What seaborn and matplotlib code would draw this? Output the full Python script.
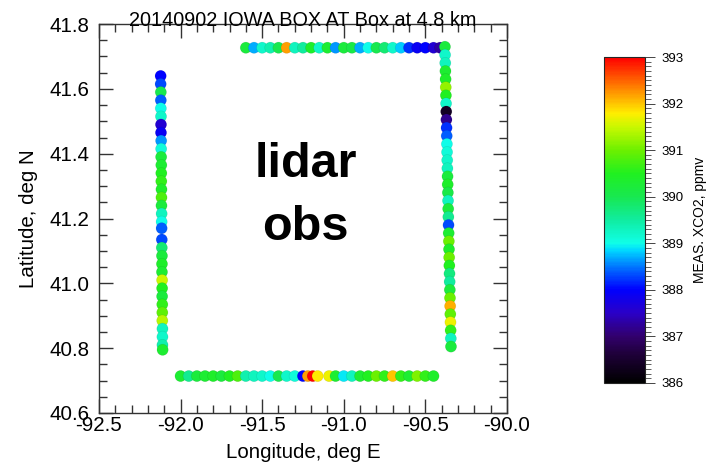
import matplotlib
matplotlib.use("Agg")
import numpy as np
import pandas as pd
import matplotlib.pyplot as plt
import seaborn as sns
from matplotlib.colors import LinearSegmentedColormap, Normalize
from matplotlib.cm import ScalarMappable
from matplotlib.ticker import MultipleLocator, FormatStrFormatter

sns.set_style("ticks")
plt.rcParams["font.family"] = ["Liberation Sans", "DejaVu Sans"]
plt.rcParams["text.color"] = "black"
plt.rcParams["axes.labelcolor"] = "black"
plt.rcParams["xtick.labelcolor"] = "black"
plt.rcParams["ytick.labelcolor"] = "black"

# ---- flight legs (lon, lat, measured XCO2 in ppmv) ----
# west leg, northern segment (flown southward)
west_n_lat = [41.64, 41.615, 41.59, 41.565, 41.54, 41.515, 41.49, 41.465, 41.44, 41.415,
              41.39, 41.365, 41.34, 41.315, 41.29, 41.265, 41.24, 41.215, 41.19, 41.17]
west_n_lon = [-92.122, -92.122, -92.121, -92.121, -92.121, -92.120, -92.120, -92.120, -92.119, -92.119,
              -92.119, -92.118, -92.118, -92.118, -92.117, -92.117, -92.117, -92.116, -92.116, -92.116]
west_n_xco2 = [388.0, 388.3, 390.0, 388.4, 389.0, 389.2, 387.6, 387.9, 388.6, 389.1,
               390.2, 390.3, 390.5, 390.6, 390.4, 390.8, 390.2, 389.3, 389.0, 388.4]

# west leg, southern segment
west_s_lat = [41.135, 41.11, 41.085, 41.06, 41.035, 41.01, 40.985, 40.96, 40.935, 40.91,
              40.885, 40.86, 40.835, 40.81, 40.795]
west_s_lon = [-92.115, -92.115, -92.114, -92.114, -92.114, -92.113, -92.113, -92.113, -92.112, -92.112,
              -92.112, -92.111, -92.111, -92.111, -92.110]
west_s_xco2 = [388.3, 389.8, 390.2, 390.4, 390.3, 391.5, 390.5, 390.2, 390.6, 390.9,
               391.4, 389.3, 389.2, 389.4, 390.3]

# south leg, western segment
south_w_lon = [-92.00, -91.95, -91.90, -91.85, -91.80, -91.75, -91.70, -91.65, -91.60, -91.55,
               -91.50, -91.45, -91.40, -91.35, -91.30, -91.25, -91.22, -91.19, -91.16]
south_w_lat = [40.714, 40.714, 40.714, 40.714, 40.714, 40.714, 40.714, 40.714, 40.714, 40.714,
               40.714, 40.714, 40.714, 40.714, 40.714, 40.714, 40.714, 40.714, 40.714]
south_w_xco2 = [390.3, 389.6, 390.2, 390.3, 390.4, 390.2, 390.5, 390.8, 389.4, 389.3,
                389.2, 389.0, 390.0, 389.2, 389.1, 388.0, 392.2, 393.0, 391.8]

# south leg, eastern segment
south_e_lon = [-91.09, -91.05, -91.00, -90.95, -90.90, -90.85, -90.80, -90.75, -90.70, -90.65,
               -90.60, -90.55, -90.50, -90.45]
south_e_lat = [40.714, 40.714, 40.714, 40.714, 40.714, 40.714, 40.714, 40.714, 40.714, 40.714,
               40.714, 40.714, 40.714, 40.714]
south_e_xco2 = [391.7, 390.3, 388.9, 389.3, 390.3, 390.5, 391.0, 390.6, 392.0, 390.6,
                390.3, 391.1, 390.6, 390.4]

# north leg (flown eastward)
north_lon = [-91.60, -91.55, -91.50, -91.45, -91.40, -91.35, -91.30, -91.25, -91.20, -91.15,
             -91.10, -91.05, -91.00, -90.95, -90.90, -90.85, -90.80, -90.75, -90.70, -90.65,
             -90.60, -90.55, -90.50, -90.45, -90.41]
north_lat = [41.727, 41.727, 41.727, 41.727, 41.727, 41.727, 41.727, 41.727, 41.727, 41.727,
             41.727, 41.727, 41.727, 41.727, 41.727, 41.727, 41.727, 41.727, 41.727, 41.727,
             41.727, 41.727, 41.727, 41.727, 41.727]
north_xco2 = [390.2, 388.7, 389.2, 389.4, 390.0, 392.2, 389.3, 389.5, 390.4, 389.2,
              390.3, 388.6, 390.2, 390.1, 388.7, 389.0, 390.0, 389.8, 389.2, 388.8,
              388.2, 387.9, 388.0, 387.6, 387.3]

# east leg (flown southward)
east_lat = [41.73, 41.705, 41.68, 41.655, 41.63, 41.605, 41.58, 41.555, 41.53, 41.505,
            41.48, 41.455, 41.43, 41.405, 41.38, 41.355, 41.33, 41.305, 41.28, 41.255,
            41.23, 41.205, 41.18, 41.155, 41.13, 41.105, 41.08, 41.055, 41.03, 41.005,
            40.98, 40.955, 40.93, 40.905, 40.88, 40.855, 40.83, 40.805]
east_lon = [-90.380, -90.379, -90.378, -90.377, -90.376, -90.375, -90.374, -90.373, -90.372, -90.371,
            -90.370, -90.369, -90.368, -90.367, -90.366, -90.365, -90.364, -90.363, -90.362, -90.361,
            -90.360, -90.359, -90.358, -90.357, -90.356, -90.355, -90.354, -90.353, -90.352, -90.351,
            -90.350, -90.349, -90.348, -90.347, -90.346, -90.345, -90.344, -90.343]
east_xco2 = [390.2, 389.2, 389.3, 390.3, 390.4, 391.2, 390.5, 389.2, 386.4, 387.2,
             388.2, 388.4, 389.0, 389.1, 389.2, 389.3, 390.2, 390.4, 390.1, 389.3,
             390.2, 389.6, 388.3, 390.3, 391.0, 390.4, 391.0, 390.5, 389.7, 389.5,
             390.2, 391.0, 392.1, 390.9, 391.7, 390.6, 389.3, 390.2]

legs = [
    (west_n_lon, west_n_lat, west_n_xco2),
    (west_s_lon, west_s_lat, west_s_xco2),
    (south_w_lon, south_w_lat, south_w_xco2),
    (south_e_lon, south_e_lat, south_e_xco2),
    (north_lon, north_lat, north_xco2),
    (east_lon, east_lat, east_xco2),
]
df = pd.concat(
    [pd.DataFrame({"lon": lo, "lat": la, "xco2": xc}) for lo, la, xc in legs],
    ignore_index=True,
)

vmin, vmax = 386.0, 393.0
stops = [
    (386.0, "#000000"), (386.6, "#1e0038"), (387.0, "#32006e"), (387.5, "#2a00c8"),
    (388.0, "#0000ff"), (388.5, "#0078ff"), (388.85, "#00d8ff"), (389.0, "#10ffe8"),
    (389.5, "#10eca0"), (390.0, "#18e850"), (390.5, "#20f020"), (391.0, "#6cf000"),
    (391.5, "#c8f800"), (391.8, "#ffee00"), (392.2, "#ffa000"), (392.6, "#ff5000"),
    (393.0, "#ff0000"),
]
cmap = LinearSegmentedColormap.from_list(
    "xco2", [((v - vmin) / (vmax - vmin), c) for v, c in stops]
)
norm = Normalize(vmin=vmin, vmax=vmax)

fig = plt.figure(figsize=(7.12, 4.63), dpi=100)
ax = fig.add_axes([0.139, 0.108, 0.573, 0.840])

sns.scatterplot(
    data=df, x="lon", y="lat", hue="xco2", palette=cmap, hue_norm=norm,
    s=66, edgecolor=(0, 0, 0, 0.09), linewidth=0.5, legend=False, ax=ax,
)

ax.set_xlim(-92.5, -90.0)
ax.set_ylim(40.6, 41.8)
ax.xaxis.set_major_locator(MultipleLocator(0.5))
ax.xaxis.set_minor_locator(MultipleLocator(0.1))
ax.yaxis.set_major_locator(MultipleLocator(0.2))
ax.yaxis.set_minor_locator(MultipleLocator(0.05))
ax.xaxis.set_major_formatter(FormatStrFormatter("%.1f"))
ax.yaxis.set_major_formatter(FormatStrFormatter("%.1f"))
ax.tick_params(which="both", direction="in", top=True, right=True,
               color="#333333", width=1.0)
ax.tick_params(which="major", length=10, labelsize=14.8)
ax.tick_params(which="minor", length=5.5)
ax.tick_params(axis="x", which="major", pad=2)
ax.tick_params(axis="y", which="major", pad=7)
for sp in ax.spines.values():
    sp.set_visible(True)
    sp.set_linewidth(1.0)
    sp.set_color("#333333")

ax.set_xlabel("Longitude, deg E", fontsize=14.8, labelpad=6)
ax.set_ylabel("Latitude, deg N", fontsize=14.8, labelpad=8)
ax.text(0.5, 0.996, "20140902 IOWA BOX AT Box at 4.8 km", transform=ax.transAxes,
        ha="center", va="baseline", fontsize=14.3)

ax.text(-91.232, 41.328, "lidar", ha="center", va="baseline",
        fontsize=35, fontweight="bold", color="black")
ax.text(-91.237, 41.133, "obs", ha="center", va="baseline",
        fontsize=35, fontweight="bold", color="black")

# colour bar
cax = fig.add_axes([0.848, 0.1728, 0.0576, 0.704])
cbar = fig.colorbar(ScalarMappable(norm=norm, cmap=cmap), cax=cax)
cbar.outline.set_linewidth(0.8)
cax.yaxis.set_major_locator(MultipleLocator(1))
cax.yaxis.set_minor_locator(MultipleLocator(0.1))
cax.yaxis.set_major_formatter(FormatStrFormatter("%d"))
cax.tick_params(which="major", length=7, width=0.7, labelsize=9.5, pad=5, color="#444444")
cax.tick_params(which="minor", length=4.5, width=0.6, color="#444444")
cbar.set_label("MEAS. XCO2, ppmv", fontsize=10, labelpad=7)

fig.savefig("out.png", dpi=100)
